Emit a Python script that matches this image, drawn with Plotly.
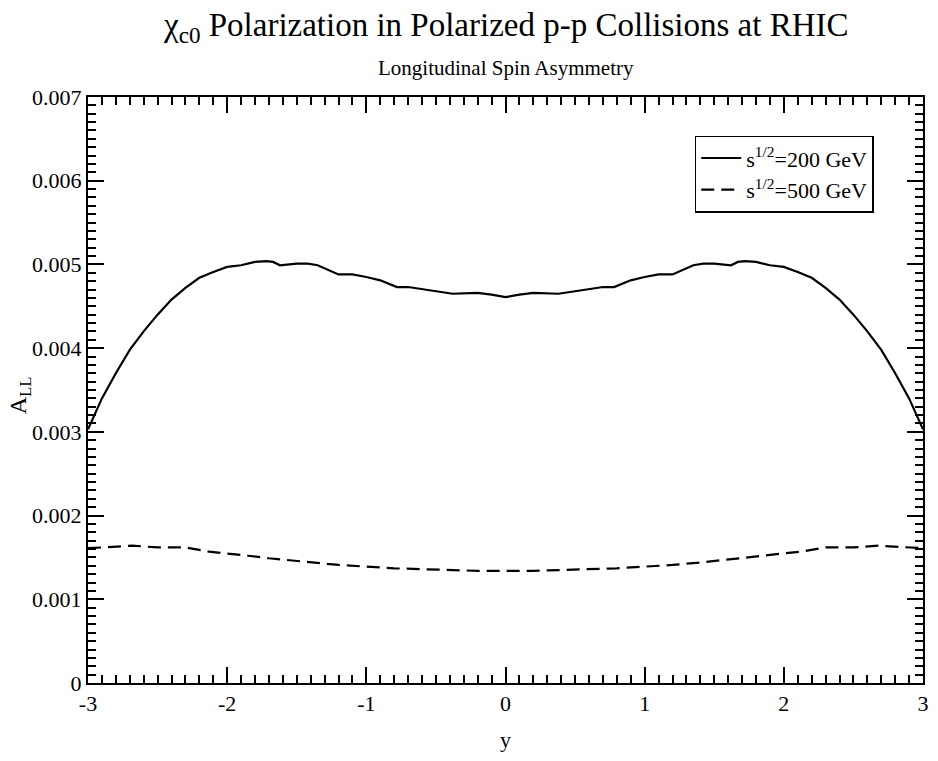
import plotly.graph_objects as go

# Data: rapidity y and A_LL for two energies (symmetric in y)
y_half_200 = [-3.0, -2.9, -2.8, -2.7, -2.6, -2.5, -2.4, -2.3, -2.2, -2.1, -2.0, -1.9, -1.8,
              -1.72, -1.67, -1.62, -1.5, -1.42, -1.35, -1.2, -1.1, -1.0, -0.9, -0.78, -0.7,
              -0.5, -0.38, -0.2, -0.1, 0.0]
a_half_200 = [0.00303, 0.00340, 0.00370, 0.00398, 0.00420, 0.00440, 0.00458, 0.00472, 0.00484,
              0.00491, 0.00497, 0.00499, 0.00503, 0.00504, 0.00503, 0.00499, 0.00501, 0.00501,
              0.00499, 0.00488, 0.00488, 0.00485, 0.00481, 0.00473, 0.00473, 0.00468, 0.00465,
              0.00466, 0.00464, 0.00461]

y_half_500 = [-3.0, -2.82, -2.68, -2.5, -2.3, -2.13, -2.0, -1.85, -1.7, -1.4, -1.2, -1.0,
              -0.8, -0.6, -0.4, -0.2, 0.0]
a_half_500 = [0.00161, 0.00163, 0.00164, 0.00162, 0.00162, 0.00157, 0.00155, 0.00152, 0.00149,
              0.00144, 0.00141, 0.00139, 0.00137, 0.00136, 0.00135, 0.00134, 0.00134]

x_tick_vals = [-3, -2, -1, 0, 1, 2, 3]
x_tick_text = ["-3", "-2", "-1", "0", "1", "2", "3"]
y_tick_vals = [0, 0.001, 0.002, 0.003, 0.004, 0.005, 0.006, 0.007]
y_tick_text = ["0", "0.001", "0.002", "0.003", "0.004", "0.005", "0.006", "0.007"]

def mirror(xs, vs):
    x_full = xs + [-v for v in reversed(xs[:-1])]
    v_full = vs + list(reversed(vs[:-1]))
    return x_full, v_full

x200, v200 = mirror(y_half_200, a_half_200)
x500, v500 = mirror(y_half_500, a_half_500)

FONT = "Liberation Serif, Times New Roman, serif"

fig = go.Figure()
fig.add_trace(go.Scatter(x=x200, y=v200, mode="lines", name="s<sup>1/2</sup>=200 GeV",
                         line=dict(color="black", width=2.2)))
fig.add_trace(go.Scatter(x=x500, y=v500, mode="lines", name="s<sup>1/2</sup>=500 GeV",
                         line=dict(color="black", width=2.2, dash="13px,7px")))

axis_common = dict(showline=True, linecolor="black", linewidth=2, mirror="allticks",
                   ticks="inside", ticklen=16, tickwidth=2, tickcolor="black",
                   showgrid=False, zeroline=False,
                   tickfont=dict(family=FONT, size=22, color="black"))

fig.update_xaxes(range=[-3, 3], tickvals=x_tick_vals, ticktext=x_tick_text,
                 minor=dict(dtick=0.1, ticks="inside", ticklen=8, tickwidth=1.5, tickcolor="black", showgrid=False),
                 **axis_common)
fig.update_yaxes(range=[0, 0.007], tickvals=y_tick_vals, ticktext=y_tick_text,
                 minor=dict(dtick=0.0001, ticks="inside", ticklen=8, tickwidth=1.5, tickcolor="black", showgrid=False),
                 **axis_common)

fig.update_layout(
    width=938, height=761,
    margin=dict(l=88, r=9, t=97, b=78),
    paper_bgcolor="white", plot_bgcolor="white",
    font=dict(family=FONT, color="black"),
    legend=dict(x=0.941, y=0.934, xanchor="right", yanchor="top",
                bordercolor="black", borderwidth=1.5, bgcolor="white",
                font=dict(family=FONT, size=22, color="black"),
                itemwidth=40, tracegroupgap=0),
    annotations=[
        dict(text="χ<sub>c0</sub> Polarization in Polarized p-p Collisions at RHIC",
             xref="paper", yref="paper", x=0.5, y=1.118, xanchor="center", yanchor="middle",
             showarrow=False, font=dict(family=FONT, size=33, color="black")),
        dict(text="Longitudinal Spin Asymmetry", xref="paper", yref="paper", x=0.5, y=1.0495,
             xanchor="center", yanchor="middle", showarrow=False,
             font=dict(family=FONT, size=21, color="black")),
        dict(text="A<sub>LL</sub>", xref="paper", yref="paper", x=-0.081, y=0.4915,
             xanchor="center", yanchor="middle", textangle=-90, showarrow=False,
             font=dict(family=FONT, size=24, color="black")),
        dict(text="y", xref="paper", yref="paper", x=0.5, y=-0.097,
             xanchor="center", yanchor="middle", showarrow=False,
             font=dict(family=FONT, size=22, color="black")),
    ],
)

fig.write_html("out.html")
